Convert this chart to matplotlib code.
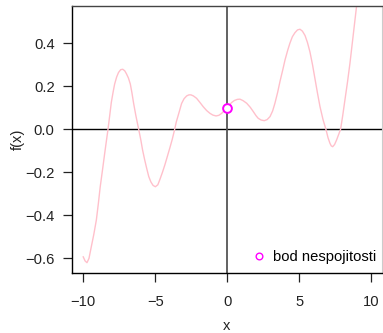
import matplotlib
matplotlib.use('Agg')
import matplotlib.pyplot as plt
from matplotlib.lines import Line2D

# values
x_vals = [-10.00, -9.87, -9.74, -9.60, -9.44, -9.27, -9.09, -8.95, -8.82, -8.66,
          -8.51, -8.40, -8.28, -8.15, -8.05, -7.92, -7.82, -7.68, -7.55, -7.40,
          -7.26, -7.12, -7.00, -6.86, -6.73, -6.62, -6.50, -6.35, -6.15, -6.00,
          -5.88, -5.74, -5.60, -5.45, -5.30, -5.15, -4.99, -4.82, -4.67, -4.50,
          -4.33, -4.15, -3.98, -3.82, -3.65, -3.54, -3.40, -3.28, -3.17, -3.00,
          -2.82, -2.66, -2.52, -2.35, -2.13, -1.90, -1.67, -1.43, -1.20, -1.00,
          -0.78, -0.58, -0.39, -0.20, 0.00, 0.15, 0.30, 0.50, 0.70, 0.88,
          1.10, 1.35, 1.60, 1.81, 2.00, 2.15, 2.35, 2.57, 2.77, 2.97,
          3.15, 3.31, 3.50, 3.66, 3.85, 4.01, 4.20, 4.35, 4.52, 4.70,
          4.88, 5.05, 5.22, 5.40, 5.57, 5.74, 5.92, 6.09, 6.26, 6.44,
          6.65, 6.85, 7.00, 7.13, 7.22, 7.32, 7.45, 7.59, 7.73, 7.87,
          8.02, 8.17, 8.35, 8.52, 8.75, 8.98, 9.20]
f_vals = [-0.593, -0.612, -0.620, -0.600, -0.546, -0.490, -0.422, -0.345, -0.267, -0.188,
          -0.112, -0.058, 0.000, 0.070, 0.125, 0.175, 0.210, 0.243, 0.264, 0.277,
          0.279, 0.272, 0.258, 0.238, 0.210, 0.170, 0.120, 0.065, 0.000, -0.050,
          -0.096, -0.140, -0.180, -0.220, -0.245, -0.261, -0.267, -0.258, -0.232, -0.200,
          -0.165, -0.124, -0.085, -0.047, 0.000, 0.034, 0.066, 0.094, 0.120, 0.142,
          0.155, 0.160, 0.160, 0.155, 0.144, 0.125, 0.105, 0.087, 0.074, 0.066,
          0.062, 0.065, 0.074, 0.087, 0.100, 0.114, 0.124, 0.134, 0.139, 0.140,
          0.133, 0.121, 0.102, 0.082, 0.063, 0.051, 0.043, 0.040, 0.045, 0.059,
          0.085, 0.121, 0.172, 0.222, 0.275, 0.322, 0.368, 0.400, 0.430, 0.449,
          0.462, 0.465, 0.456, 0.436, 0.403, 0.360, 0.300, 0.235, 0.170, 0.105,
          0.045, 0.000, -0.040, -0.065, -0.077, -0.081, -0.071, -0.050, -0.025, 0.000,
          0.065, 0.136, 0.220, 0.307, 0.440, 0.573, 0.720]

disc_x = [0.0]
disc_y = [0.1]

x_ticks = [-10, -5, 0, 5, 10]
y_ticks = [-0.6, -0.4, -0.2, 0.0, 0.2, 0.4]

plt.rcParams['font.family'] = ['Liberation Sans', 'DejaVu Sans']
fs = 10.6

W, H = 383, 333
fig = plt.figure(figsize=(W / 100, H / 100), dpi=100)
left, right, top, bottom = 72, 381.5, 6, 273
ax = fig.add_axes([left / W, (H - bottom) / H, (right - left) / W, (bottom - top) / H])

ax.set_xlim(-10.78, 10.71)
ax.set_ylim(-0.668, 0.573)

# reference lines
ax.axhline(0, color='black', lw=1.0, zorder=1)
ax.axvline(0, color='#555555', lw=1.3, zorder=1)

ax.plot(x_vals, f_vals, color='pink', lw=1.0, zorder=2)
ax.plot(disc_x, disc_y, 'o', mfc='white', mec='magenta', ms=6.3, mew=1.4, zorder=3)

ax.set_xticks(x_ticks)
ax.set_yticks(y_ticks)
ax.set_xticklabels([str(t).replace('-', '\u2212') for t in x_ticks])
ax.set_yticklabels([('%.1f' % t).replace('-', '\u2212') for t in y_ticks])
ax.tick_params(axis='x', length=6.5, width=0.9, pad=9, labelsize=fs, colors='#222222')
ax.tick_params(axis='y', length=6.5, width=0.9, pad=6, labelsize=fs, colors='#222222')

for s in ['left', 'bottom']:
    ax.spines[s].set_color('black')
    ax.spines[s].set_linewidth(1.0)
ax.spines['top'].set_color('#444444')
ax.spines['top'].set_linewidth(1.0)
ax.spines['right'].set_color('#cccccc')
ax.spines['right'].set_linewidth(0.8)

ax.set_xlabel('x', fontsize=fs, color='#222222')
ax.set_ylabel('f(x)', fontsize=fs, color='#222222')
ax.xaxis.set_label_coords(0.5, -0.198)
ax.xaxis.label.set_verticalalignment('center')
ax.yaxis.set_label_coords(-0.176, 0.5)
ax.yaxis.label.set_verticalalignment('center')

handle = Line2D([], [], ls='none', marker='o', mfc='white', mec='magenta', ms=4.8, mew=1.0)
ax.legend([handle], ['bod nespojitosti'], loc='lower right', bbox_to_anchor=(0.982, 0.034),
          frameon=False, fontsize=fs, borderpad=0, borderaxespad=0,
          handlelength=1.0, handletextpad=0.45, numpoints=1)

fig.savefig('out.png', dpi=100)
